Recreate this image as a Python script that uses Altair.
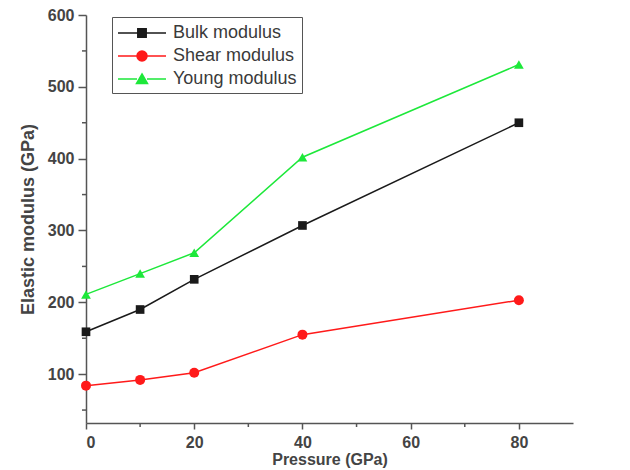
import altair as alt
import pandas as pd

pressure = [0, 10, 20, 40, 80]
bulk = [159, 190, 232, 307, 450]
shear = [84, 92, 102, 155, 203]
young = [211, 240, 269, 402, 531]

x_major = [0, 20, 40, 60, 80]
x_minor = [10, 30, 50, 70]
y_major = [100, 200, 300, 400, 500, 600]
y_minor = [50, 150, 250, 350, 450, 550]

series_names = ["Bulk modulus", "Shear modulus", "Young modulus"]
series_colors = ["#1a1a1a", "#ff1a1a", "#1de83a"]
series_shapes = ["square", "circle", "triangle-up"]
legend_paths = [
    "M-2.4,0H-0.45M0.45,0H2.4M-0.42,-0.42H0.42V0.42H-0.42Z",
    "M-2.4,0H-0.5M0.5,0H2.4M-0.5,0A0.5,0.5 0 1,0 0.5,0A0.5,0.5 0 1,0 -0.5,0Z",
    "M-2.4,0H-0.5M0.5,0H2.4M0,-0.5L0.55,0.45H-0.55Z",
]

rows = []
for name, vals in zip(series_names, [bulk, shear, young]):
    for p, v in zip(pressure, vals):
        rows.append({"Pressure": p, "Modulus": v, "Series": name})
df = pd.DataFrame(rows)
df_xminor = pd.DataFrame({"Pressure": x_minor})
df_yminor = pd.DataFrame({"Modulus": y_minor})

FONT = "Liberation Sans"
AXIS_COLOR = "#555555"
Y_MIN = 32

x_enc = alt.X(
    "Pressure:Q",
    scale=alt.Scale(domain=[0, 90], nice=False, zero=False),
    axis=alt.Axis(title="Pressure (GPa)", values=x_major, tickSize=6),
)
y_enc = alt.Y(
    "Modulus:Q",
    scale=alt.Scale(domain=[Y_MIN, 600], nice=False, zero=False),
    axis=alt.Axis(title="Elastic modulus (GPa)", values=y_major, tickSize=8),
)
color_scale = alt.Scale(domain=series_names, range=series_colors)

legend_def = alt.Legend(
    title=None,
    orient="none",
    legendX=26,
    legendY=2,
    symbolSize=400,
    symbolOpacity=1,
    symbolStrokeWidth=1.5,
    symbolOffset=14,
    labelOffset=20,
    labelFontSize=18,
    labelFont=FONT,
    labelColor="#3a3a3a",
    rowPadding=3,
    padding=5,
    strokeColor="#555555",
    fillColor="white",
    labelLimit=300,
)

base = alt.Chart(df)

legend_layer = base.mark_point(filled=True, opacity=0, strokeWidth=1.5).encode(
    x=x_enc,
    y=y_enc,
    color=alt.Color("Series:N", scale=color_scale, legend=legend_def),
    stroke=alt.Stroke("Series:N", scale=alt.Scale(domain=series_names, range=series_colors), legend=legend_def),
    shape=alt.Shape("Series:N", scale=alt.Scale(domain=series_names, range=legend_paths), legend=legend_def),
)

lines = base.mark_line(strokeWidth=1.5).encode(
    x="Pressure:Q",
    y="Modulus:Q",
    color=alt.Color("Series:N", scale=color_scale),
    detail="Series:N",
)

point_layers = []
for name, shape, sz in zip(series_names, series_shapes, [75, 100, 95]):
    point_layers.append(
        base.transform_filter(alt.datum.Series == name)
        .mark_point(filled=True, shape=shape, size=sz, opacity=1)
        .encode(
            x="Pressure:Q",
            y="Modulus:Q",
            color=alt.Color("Series:N", scale=color_scale),
        )
    )

y_minor_ticks = alt.Chart(df_yminor).mark_tick(
    orient="horizontal", size=4, thickness=1.5, color=AXIS_COLOR, xOffset=-2, opacity=1
).encode(x=alt.datum(0), y="Modulus:Q")

x_minor_ticks = alt.Chart(df_xminor).mark_tick(
    orient="vertical", size=4, thickness=1.5, color=AXIS_COLOR, yOffset=2, opacity=1
).encode(x="Pressure:Q", y=alt.datum(Y_MIN))

chart = (
    alt.layer(legend_layer, lines, *point_layers, y_minor_ticks, x_minor_ticks)
    .properties(
        width=487,
        height=408,
        padding={"left": 78, "top": 7, "right": 10, "bottom": 50},
        autosize=alt.AutoSizeParams(type="none"),
    )
    .configure_view(stroke=None)
    .configure_axis(
        domainColor=AXIS_COLOR,
        domainWidth=1.5,
        tickColor=AXIS_COLOR,
        tickWidth=1.5,
        grid=False,
        labelFont=FONT,
        labelFontSize=16,
        labelFontWeight="bold",
        labelColor="#444444",
        titleFont=FONT,
        titleFontWeight="bold",
        titleColor="#444444",
    )
    .configure_axisY(labelPadding=4, titlePadding=10, titleFontSize=18)
    .configure_axisX(labelPadding=5, titlePadding=1, titleFontSize=16)
)

chart.save("out.html", embed_options={"renderer": "svg", "actions": False})
